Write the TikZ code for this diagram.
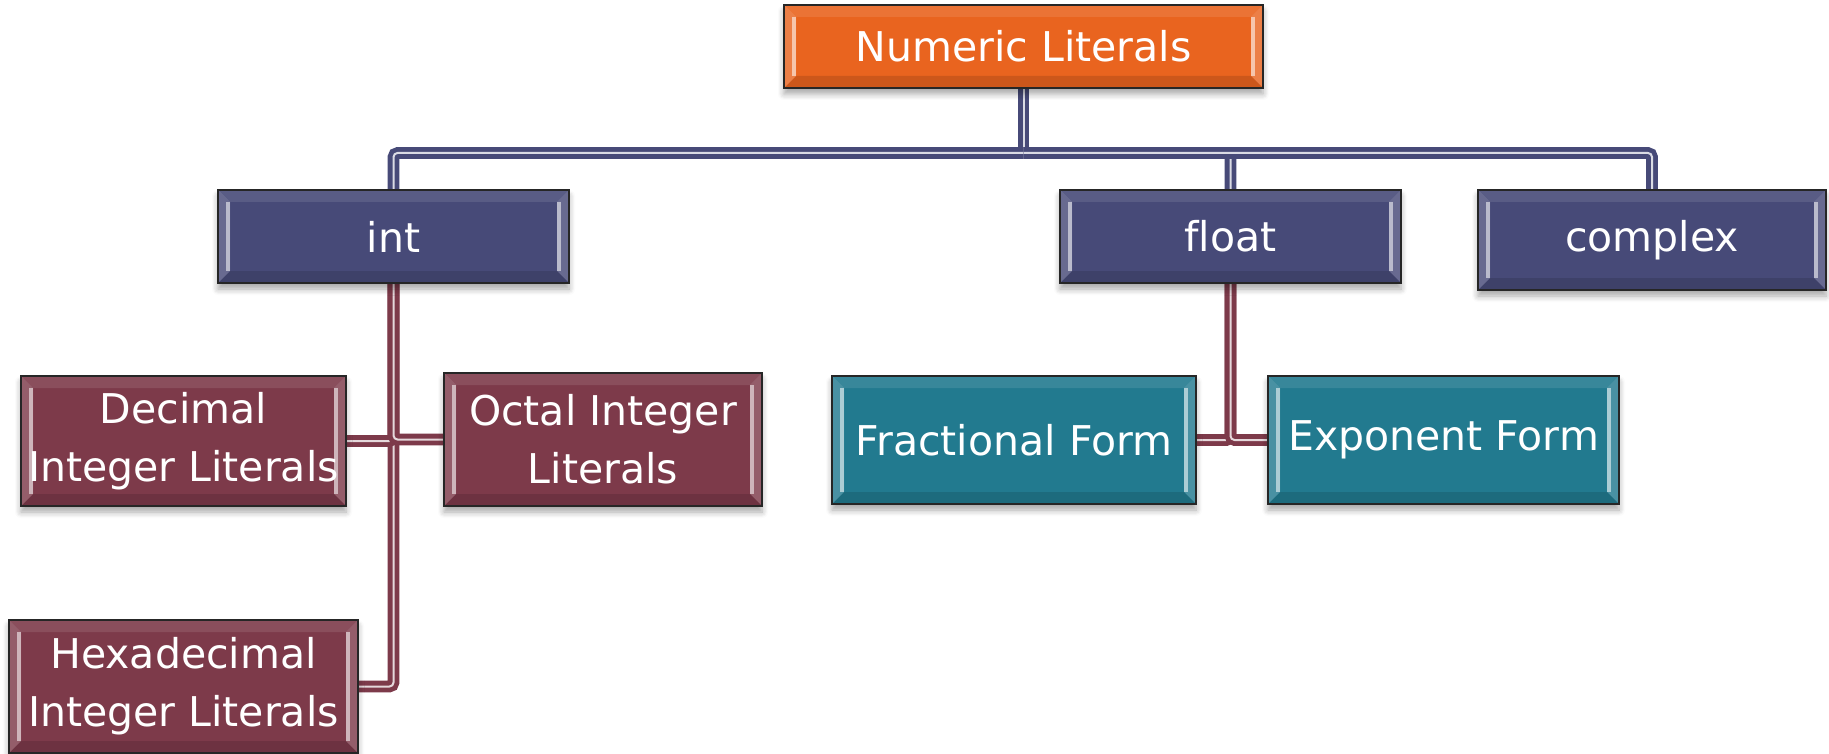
\documentclass[tikz,border=0pt]{standalone}
\usepackage{fontspec}
\setmainfont{DejaVu Sans}[Ligatures=NoCommon]
\usetikzlibrary{shadows,shadows.blur,backgrounds}
\definecolor{cOrange}{RGB}{233,100,31}
\definecolor{cNavy}{RGB}{71,74,120}
\definecolor{cMaroon}{RGB}{125,58,74}
\definecolor{cTeal}{RGB}{34,122,143}
\tikzset{
  bevel/.style={path picture={
    \path (path picture bounding box.north west) coordinate (pnw)
          (path picture bounding box.south east) coordinate (pse)
          (path picture bounding box.north east) coordinate (pne)
          (path picture bounding box.south west) coordinate (psw);
    \fill[white,opacity=0.18] (pnw) -- ([shift={(6pt,-6pt)}]pnw) -- ([shift={(6pt,6pt)}]psw) -- (psw) -- cycle;
    \fill[white,opacity=0.18] (pne) -- ([shift={(-6pt,-6pt)}]pne) -- ([shift={(-6pt,6pt)}]pse) -- (pse) -- cycle;
    \fill[white,opacity=0.10] (pnw) -- ([shift={(6pt,-6pt)}]pnw) -- ([shift={(-6pt,-6pt)}]pne) -- (pne) -- cycle;
    \fill[black,opacity=0.12] (psw) -- ([shift={(6pt,6pt)}]psw) -- ([shift={(-6pt,6pt)}]pse) -- (pse) -- cycle;
    \draw[white,opacity=0.55,line width=2pt] ([shift={(5pt,-6pt)}]pnw) -- ([shift={(5pt,6pt)}]psw);
    \draw[white,opacity=0.55,line width=2pt] ([shift={(-5pt,-6pt)}]pne) -- ([shift={(-5pt,6pt)}]pse);
  }},
  box/.style={draw=black!85, line width=0.7pt, text=white, align=center, inner sep=0pt,
    font=\fontsize{20.5}{29}\selectfont,
    blur shadow={shadow xshift=0pt, shadow yshift=-3pt, shadow blur radius=3pt, shadow blur steps=6, shadow opacity=35}, bevel},
  sz/.style 2 args={minimum width=#1, minimum height=#2},
  navyconn/.style={draw=cNavy, line width=2.4pt, double=white!80!cNavy, double distance=1pt, rounded corners=2pt},
  maroonconn/.style={draw=cMaroon, line width=2.4pt, double=white!80!cMaroon, double distance=1pt, rounded corners=2pt},
}
\begin{document}
\begin{tikzpicture}[x=0.5pt,y=-0.5pt]
\useasboundingbox (0,0) rectangle (1829,754);
\node[box, fill=cOrange, sz={239.5pt}{41.5pt}] (nl) at (1023.5,46.5) {Numeric Literals};
\node[box, fill=cNavy, sz={175.5pt}{46.5pt}] (int) at (393.5,236.5) {int};
\node[box, fill=cNavy, sz={170.5pt}{46.5pt}] (float) at (1230.5,236.5) {float};
\node[box, fill=cNavy, sz={174pt}{50pt}] (complex) at (1652,240) {complex};
\node[box, fill=cMaroon, sz={162.5pt}{65pt}] (dec) at (183.5,441) {Decimal\\Integer Literals};
\node[box, fill=cMaroon, sz={159pt}{66.5pt}] (oct) at (603,439.5) {Octal Integer\\Literals};
\node[box, fill=cMaroon, sz={174.5pt}{66.5pt}] (hex) at (183.5,686.5) {Hexadecimal\\Integer Literals};
\node[box, fill=cTeal, sz={182pt}{64pt}] (frac) at (1014,440) {Fractional Form};
\node[box, fill=cTeal, sz={175.5pt}{64pt}] (exp) at (1443.5,440) {Exponent Form};
\coordinate (hub) at (1023.5,153);
\begin{scope}[on background layer]
\draw[navyconn] (nl.south) -- (hub);
\draw[navyconn] (hub) -| (int.north);
\draw[navyconn] (hub) -| (float.north);
\draw[navyconn] (hub) -| (complex.north);
\draw[maroonconn] (int.south) |- (hex.east);
\draw[maroonconn] (int.south) |- (dec.east);
\draw[maroonconn] (int.south) |- (oct.west);
\draw[maroonconn] (float.south) |- (frac.east);
\draw[maroonconn] (float.south) |- (exp.west);
\end{scope}
\end{tikzpicture}
\end{document}
